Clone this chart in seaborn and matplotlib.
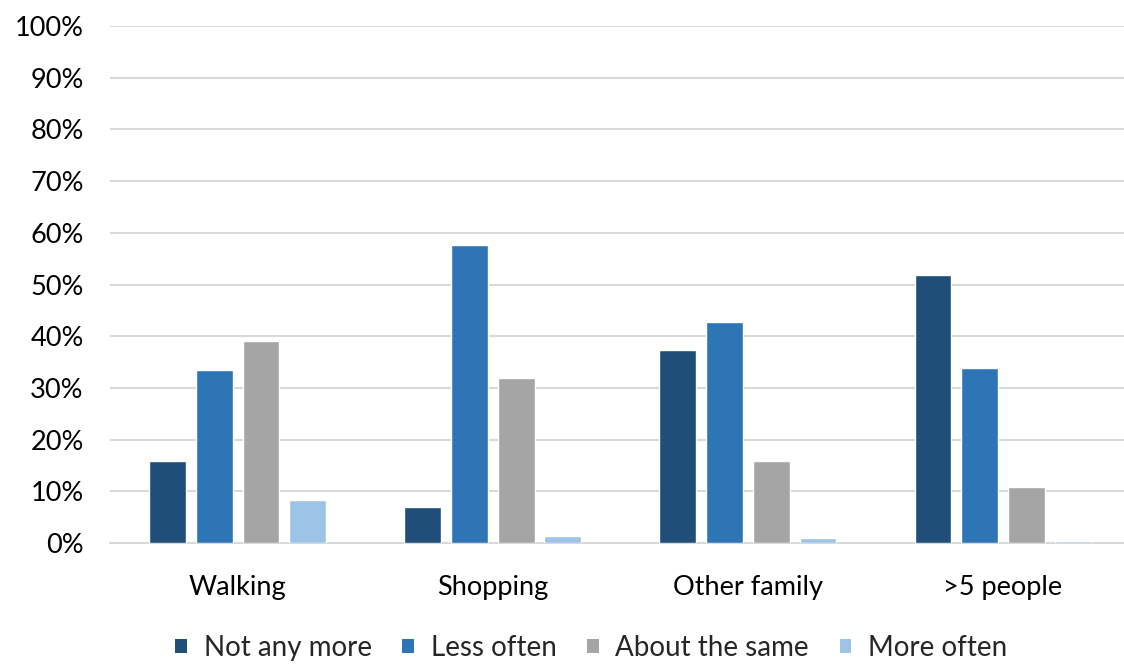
import matplotlib
matplotlib.use("Agg")
import matplotlib.pyplot as plt
import seaborn as sns
import pandas as pd
from matplotlib.ticker import PercentFormatter
from matplotlib.patches import Patch

categories = ["Walking", "Shopping", "Other family", ">5 people"]
series = ["Not any more", "Less often", "About the same", "More often"]
not_any_more = [15.9, 7.0, 37.4, 51.9]
less_often = [33.5, 57.6, 42.8, 33.9]
about_same = [39.1, 32.0, 15.9, 10.9]
more_often = [8.3, 1.4, 0.9, 0.4]
colors = ["#1F4E79", "#2E75B6", "#A5A5A5", "#9DC3E6"]

rows = []
for s, vals in zip(series, [not_any_more, less_often, about_same, more_often]):
    for c, v in zip(categories, vals):
        rows.append({"category": c, "series": s, "value": v})
df = pd.DataFrame(rows)

sns.set_style("white")
plt.rcParams["font.family"] = ["Lato", "DejaVu Sans"]

fig = plt.figure(figsize=(11.24, 6.64), dpi=100)
ax = fig.add_axes([0.0979, 0.182, 0.908, 0.779])

sns.barplot(data=df, x="category", y="value", hue="series", order=categories,
            hue_order=series, palette=colors, width=0.732, gap=0.21,
            saturation=1, ax=ax, legend=False, zorder=3)

ax.set_ylim(0, 100)
ax.set_yticks(range(0, 101, 10))
ax.yaxis.set_major_formatter(PercentFormatter(decimals=0))
ax.grid(axis="y", color="#D9D9D9", linewidth=1.5, zorder=0)
ax.set_axisbelow(True)
for sp in ["top", "right", "left"]:
    ax.spines[sp].set_visible(False)
ax.spines["bottom"].set_color("#D9D9D9")
ax.spines["bottom"].set_linewidth(1.5)
ax.tick_params(axis="both", length=0, labelsize=19.5, colors="#000000")
ax.tick_params(axis="x", pad=23)
ax.tick_params(axis="y", pad=19)
ax.set_xlabel("")
ax.set_ylabel("")

handles = [Patch(facecolor=c, edgecolor="none") for c in colors]
fig.legend(handles, series, loc="center", bbox_to_anchor=(0.526, 0.024), ncol=4,
           frameon=False, fontsize=20, handlelength=0.42, handleheight=0.42,
           handletextpad=0.6, columnspacing=1.1)

fig.savefig("out.png", dpi=100)
